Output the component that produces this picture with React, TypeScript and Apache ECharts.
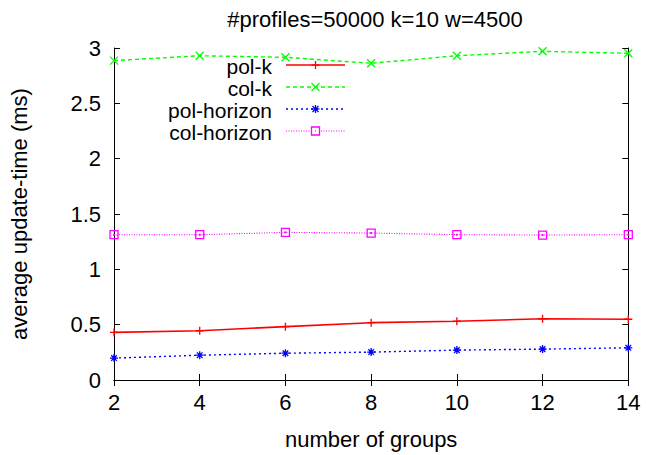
import React, { useEffect, useRef } from "react";
import * as echarts from "echarts";

const groups = [2, 4, 6, 8, 10, 12, 14];
const polK = [0.43, 0.445, 0.482, 0.518, 0.531, 0.553, 0.549];
const colK = [2.886, 2.93, 2.916, 2.862, 2.93, 2.97, 2.952];
const polHorizon = [0.198, 0.224, 0.242, 0.252, 0.27, 0.279, 0.291];
const colHorizon = [1.313, 1.313, 1.334, 1.328, 1.313, 1.31, 1.313];

const FONT = "Liberation Sans, Arial, sans-serif";
const FS = 22;
const KEY_FS = 21;

const PLUS = "path://M0,5L10,5M5,0L5,10";
const CROSS = "path://M0,0L10,10M10,0L0,10";
const STAR = "path://M0,5L10,5M5,0L5,10M1.5,1.5L8.5,8.5M8.5,1.5L1.5,8.5";
const SQUARE = "path://M0,0L10,0L10,10L0,10ZM4.6,4.6L5.4,4.6L5.4,5.4L4.6,5.4Z";

type Spec = {
  name: string;
  values: number[];
  color: string;
  dash: number[] | "solid";
  symbol: string;
  width: number;
};

const specs: Spec[] = [
  { name: "pol-k", values: polK, color: "#ff0000", dash: "solid", symbol: PLUS, width: 1.6 },
  { name: "col-k", values: colK, color: "#00ff00", dash: [4, 3], symbol: CROSS, width: 1.4 },
  { name: "pol-horizon", values: polHorizon, color: "#0000ff", dash: [2, 3], symbol: STAR, width: 1.4 },
  { name: "col-horizon", values: colHorizon, color: "#ff00ff", dash: [1, 1.5], symbol: SQUARE, width: 1.1 },
];

function legendMarker(kind: number, cx: number, cy: number, color: string) {
  const s = 4;
  const st = { stroke: color, lineWidth: 1.3 };
  const line = (x1: number, y1: number, x2: number, y2: number) => ({
    type: "line",
    shape: { x1, y1, x2, y2 },
    style: st,
  });
  if (kind === 0) return [line(cx - s, cy, cx + s, cy), line(cx, cy - s, cx, cy + s)];
  if (kind === 1) return [line(cx - s, cy - s, cx + s, cy + s), line(cx + s, cy - s, cx - s, cy + s)];
  if (kind === 2)
    return [
      line(cx - s, cy, cx + s, cy),
      line(cx, cy - s, cx, cy + s),
      line(cx - 3, cy - 3, cx + 3, cy + 3),
      line(cx + 3, cy - 3, cx - 3, cy + 3),
    ];
  return [
    { type: "rect", shape: { x: cx - s, y: cy - s, width: 2 * s, height: 2 * s }, style: { fill: "#fff", ...st } },
    { type: "rect", shape: { x: cx - 0.5, y: cy - 0.5, width: 1, height: 1 }, style: { fill: color } },
  ];
}

export default function App() {
  const ref = useRef<HTMLDivElement>(null);

  useEffect(() => {
    if (!ref.current) return;
    const chart = echarts.init(ref.current, undefined, { renderer: "svg" });

    // Key drawn by hand: right-aligned names with a line sample and marker after each.
    const legendGraphics: any[] = [];
    specs.forEach((s, i) => {
      const y = 65 + i * 22;
      legendGraphics.push({
        type: "text",
        style: {
          text: s.name,
          x: 272,
          y: y + 1,
          align: "right",
          verticalAlign: "middle",
          fontSize: KEY_FS,
          lineHeight: 20,
          fontFamily: FONT,
          fill: "#000",
        },
      });
      legendGraphics.push({
        type: "line",
        shape: { x1: 286, y1: y, x2: 345, y2: y },
        style: {
          stroke: s.color,
          lineWidth: s.width,
          lineDash: s.dash === "solid" ? null : s.dash,
        },
      });
      legendGraphics.push(...legendMarker(i, 315.5, y, s.color));
    });

    const axisCommon = {
      type: "value" as const,
      axisLine: { show: true, lineStyle: { color: "#000", width: 1 } },
      axisTick: { show: true, inside: true, length: 6, lineStyle: { color: "#000" } },
      splitLine: { show: false },
    };

    chart.setOption({
      animation: false,
      backgroundColor: "#fff",
      title: {
        text: "#profiles=50000 k=10 w=4500",
        left: 370,
        top: 3,
        textAlign: "center",
        textStyle: { fontSize: FS, fontWeight: "normal", fontFamily: FONT, color: "#000" },
      },
      grid: { left: 111.7, right: 17.7, top: 48, bottom: 74 },
      xAxis: [
        {
          ...axisCommon,
          min: 2,
          max: 14,
          interval: 2,
          position: "bottom",
          name: "number of groups",
          nameLocation: "middle",
          nameGap: 48,
          nameTextStyle: { fontSize: FS, fontFamily: FONT, color: "#000" },
          axisLabel: { fontSize: FS, fontFamily: FONT, color: "#000", margin: 11 },
        },
        {
          ...axisCommon,
          min: 2,
          max: 14,
          interval: 2,
          position: "top",
          axisLabel: { show: false },
        },
      ],
      yAxis: [
        {
          ...axisCommon,
          min: 0,
          max: 3,
          interval: 0.5,
          position: "left",
          name: "average update-time (ms)",
          nameLocation: "middle",
          nameGap: 84,
          nameRotate: 90,
          nameTextStyle: { fontSize: FS, fontFamily: FONT, color: "#000" },
          axisLabel: { fontSize: FS, fontFamily: FONT, color: "#000", margin: 13 },
        },
        {
          ...axisCommon,
          min: 0,
          max: 3,
          interval: 0.5,
          position: "right",
          axisLabel: { show: false },
        },
      ],
      graphic: legendGraphics,
      series: specs.map((s) => ({
        name: s.name,
        type: "line",
        data: groups.map((g, i) => [g, s.values[i]]),
        symbol: s.symbol,
        symbolSize: 8,
        showAllSymbol: true,
        itemStyle: { color: "transparent", borderColor: s.color, borderWidth: 1.3 },
        lineStyle: {
          color: s.color,
          width: s.width,
          type: s.dash,
        },
        emphasis: { disabled: true },
        z: 3,
      })),
    });

    return () => chart.dispose();
  }, []);

  return (
    <div
      ref={ref}
      style={{ position: "fixed", left: 0, top: 0, width: 646, height: 455 }}
    />
  );
}
